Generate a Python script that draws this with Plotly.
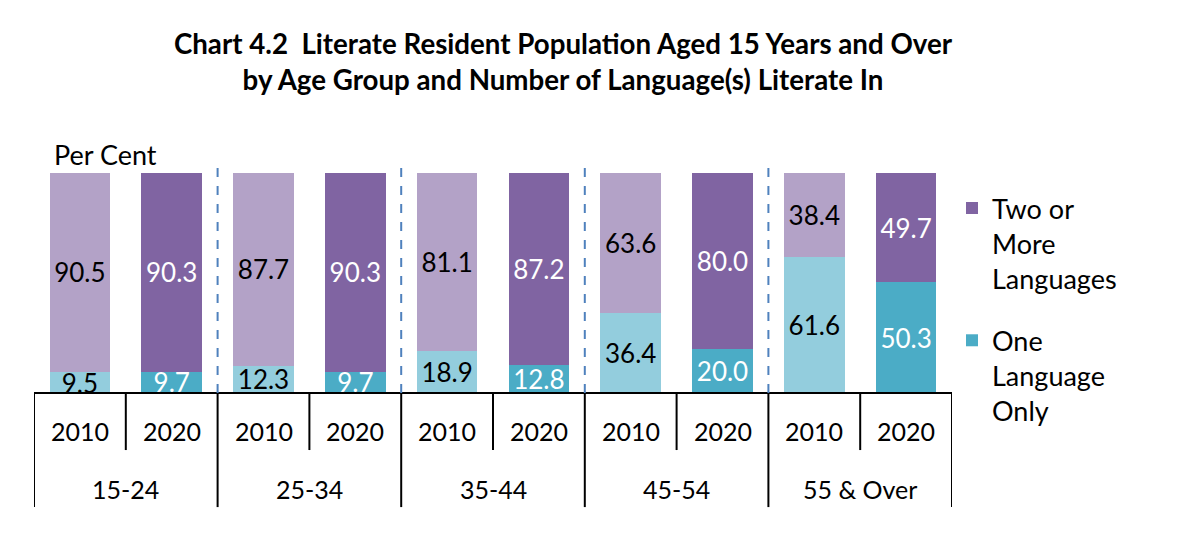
import plotly.graph_objects as go

groups = ["15-24", "25-34", "35-44", "45-54", "55 & Over"]
years = ["2010", "2020"]
one_2010 = [9.5, 12.3, 18.9, 36.4, 61.6]
two_2010 = [90.5, 87.7, 81.1, 63.6, 38.4]
one_2020 = [9.7, 9.7, 12.8, 20.0, 50.3]
two_2020 = [90.3, 90.3, 87.2, 80.0, 49.7]

FONT = "Lato"
C_TWO_10 = "#b3a2c7"
C_TWO_20 = "#8064a2"
C_ONE_10 = "#93cddd"
C_ONE_20 = "#4bacc6"

x10 = [2 * i for i in range(len(groups))]
x20 = [2 * i + 1 for i in range(len(groups))]

fig = go.Figure()

def bar(x, y, color, tcolor, name, show, rank):
    return go.Bar(
        x=x, y=y, name=name, marker=dict(color=color, line=dict(width=0)),
        texttemplate="%{y:.1f}", textposition="inside", insidetextanchor="middle",
        constraintext="none", textangle=0,
        textfont=dict(family=FONT, size=26, color=tcolor),
        showlegend=show, legendgroup=name, legendrank=rank, hoverinfo="skip",
    )

ONE = "One<br>Language<br>Only"
TWO = "Two or<br>More<br>Languages"
fig.add_trace(bar(x10, one_2010, C_ONE_10, "black", ONE, False, 2))
fig.add_trace(bar(x10, two_2010, C_TWO_10, "black", TWO, False, 1))
fig.add_trace(bar(x20, one_2020, C_ONE_20, "white", ONE, True, 2))
fig.add_trace(bar(x20, two_2020, C_TWO_20, "white", TWO, True, 1))

shapes = []
n = len(groups)
shapes.append(dict(type="line", xref="x", yref="paper", x0=-0.5, x1=2 * n - 0.5, y0=0, y1=0,
                   line=dict(color="black", width=2)))
for k in range(n + 1):
    xv = 2 * k - 0.5
    shapes.append(dict(type="line", xref="x", yref="paper", x0=xv, x1=xv, y0=0, y1=-0.496,
                       line=dict(color="black", width=2)))
for k in range(n):
    xv = 2 * k + 0.5
    shapes.append(dict(type="line", xref="x", yref="paper", x0=xv, x1=xv, y0=0, y1=-0.248,
                       line=dict(color="black", width=2)))
for k in range(1, n):
    xv = 2 * k - 0.5
    shapes.append(dict(type="line", xref="x", yref="paper", x0=xv, x1=xv, y0=0, y1=1,
                       line=dict(color="#4f81bd", width=2, dash="dash")))

annotations = []
for i, g in enumerate(groups):
    annotations.append(dict(x=2 * i + 0.5, y=-0.417, xref="x", yref="paper", text=g,
                            showarrow=False, font=dict(family=FONT, size=25, color="black"),
                            xanchor="center", yanchor="middle"))
    for j, yr in enumerate(years):
        annotations.append(dict(x=2 * i + j, y=-0.165, xref="x", yref="paper", text=yr,
                                showarrow=False, font=dict(family=FONT, size=25, color="black"),
                                xanchor="center", yanchor="middle"))
annotations.append(dict(x=0.0196, y=1.035, xref="paper", yref="paper", text="Per Cent",
                        showarrow=False, font=dict(family=FONT, size=27, color="black"),
                        xanchor="left", yanchor="middle"))

fig.update_layout(
    width=1200, height=558,
    margin=dict(l=26, r=256, t=155, b=173),
    barmode="stack", bargap=0.34,
    plot_bgcolor="white", paper_bgcolor="white",
    title=dict(text="<b>Chart 4.2  Literate Resident Population Aged 15 Years and Over<br>by Age Group and Number of Language(s) Literate In</b>",
               x=555 / 1200, xanchor="center", y=0.917, yanchor="top",
               font=dict(family=FONT, size=27.7, color="black")),
    xaxis=dict(range=[-0.5, 2 * n - 0.5], showticklabels=False, showgrid=False, zeroline=False,
               showline=False, ticks=""),
    yaxis=dict(range=[0, 104.5], visible=False),
    legend=dict(x=1.0, xanchor="left", y=0.909, yanchor="top", valign="top",
                traceorder="grouped", font=dict(family=FONT, size=27, color="black"),
                tracegroupgap=24, itemwidth=30, maxheight=420),
    shapes=shapes, annotations=annotations,
    showlegend=True,
)

fig.write_html("out.html")
